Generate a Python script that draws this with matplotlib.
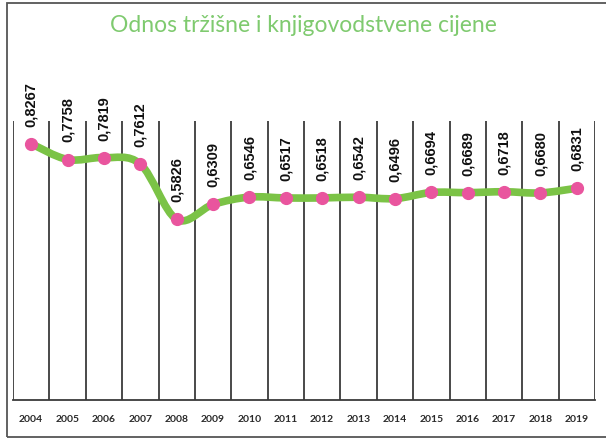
import numpy as np
import matplotlib
matplotlib.use("Agg")
import matplotlib.pyplot as plt
from matplotlib.path import Path
from matplotlib.patches import PathPatch, Rectangle

years = ["2004", "2005", "2006", "2007", "2008", "2009", "2010", "2011",
         "2012", "2013", "2014", "2015", "2016", "2017", "2018", "2019"]
ratio = [0.8267, 0.7758, 0.7819, 0.7612, 0.5826, 0.6309, 0.6546, 0.6517,
         0.6518, 0.6542, 0.6496, 0.6694, 0.6689, 0.6718, 0.6680, 0.6831]
labels = ["0,8267", "0,7758", "0,7819", "0,7612", "0,5826", "0,6309", "0,6546", "0,6517",
          "0,6518", "0,6542", "0,6496", "0,6694", "0,6689", "0,6718", "0,6680", "0,6831"]

line_green = "#7bc346"
title_green = "#7fca6f"
pink = "#e9559e"

fig = plt.figure(figsize=(6.06, 4.39), dpi=100)
# outer chart border (right edge falls outside the image)
fig.patches.append(Rectangle((7 / 606, 1.5 / 439), 1.2, 434 / 439, transform=fig.transFigure,
                             fill=False, edgecolor="#555555", linewidth=1.3))

ax = fig.add_axes([13 / 606, 38 / 439, 582 / 606, 279 / 439])
x = np.arange(len(years))
y = np.array(ratio)

ax.set_xlim(-0.5, len(years) - 0.5)
ax.set_ylim(0, 0.9)
for s in ["top", "left", "right"]:
    ax.spines[s].set_visible(False)
ax.spines["bottom"].set_color("#3a3a3a")
ax.spines["bottom"].set_linewidth(1.3)
ax.set_yticks([])
ax.set_xticks([])

# vertical separators between categories
for b in np.arange(-0.5, len(years), 1.0):
    ax.axvline(b, color="#3a3a3a", linewidth=1.3, zorder=1)

# smooth line (bezier through the data points)
pts = np.column_stack([x, y])
verts = [pts[0]]
codes = [Path.MOVETO]
n = len(pts)
for i in range(n - 1):
    p0 = pts[i - 1] if i > 0 else pts[i]
    p1 = pts[i]
    p2 = pts[i + 1]
    p3 = pts[i + 2] if i + 2 < n else pts[i + 1]
    c1 = p1 + (p2 - p0) / 6
    c2 = p2 - (p3 - p1) / 6
    verts += [c1, c2, p2]
    codes += [Path.CURVE4, Path.CURVE4, Path.CURVE4]
ax.add_patch(PathPatch(Path(verts, codes), fill=False, edgecolor=line_green,
                       linewidth=5.5, capstyle="round", joinstyle="round", zorder=3))

ax.plot(x, y, linestyle="none", marker="o", markersize=8.5, color=pink, zorder=4)

for xi, yi, lab in zip(x, y, labels):
    ax.annotate(lab, (xi, yi), xytext=(0, 13), textcoords="offset points",
                rotation=90, ha="center", va="bottom", fontsize=10.5, fontweight="bold",
                family=["Liberation Sans", "DejaVu Sans"], color="#111111",
                bbox=dict(boxstyle="square,pad=0.1", facecolor="white", edgecolor="none"),
                annotation_clip=False, zorder=5)

for xi, yr in zip(x, years):
    ax.text(xi, -19 / 279, yr, ha="center", va="center", fontsize=7.5, fontweight="bold",
            family=["Lato", "DejaVu Sans"], color="#2a2a2a",
            transform=ax.get_xaxis_transform(), clip_on=False)

fig.text(0.5, 1 - 32 / 439, "Odnos tržišne i knjigovodstvene cijene",
         ha="center", va="baseline", fontsize=16.5, color=title_green, family=["Lato", "DejaVu Sans"])

fig.savefig("out.png", dpi=100)
